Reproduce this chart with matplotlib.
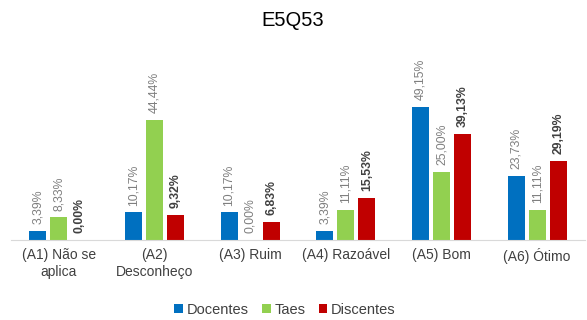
import matplotlib
matplotlib.use("Agg")
import matplotlib.pyplot as plt
import numpy as np

plt.rcParams['font.family'] = ['Liberation Sans', 'DejaVu Sans']

categories = ["(A1) Não se\naplica", "(A2)\nDesconheço", "(A3) Ruim",
              "(A4) Razoável", "(A5) Bom", "(A6) Ótimo"]
series = ["Docentes", "Taes", "Discentes"]
docentes = [3.39, 10.17, 10.17, 3.39, 49.15, 23.73]
taes = [8.33, 44.44, 0.00, 11.11, 25.00, 11.11]
discentes = [0.00, 9.32, 6.83, 15.53, 39.13, 29.19]
colors = ["#0070C0", "#92D050", "#C00000"]

W, H = 587, 320
fig = plt.figure(figsize=(W / 100, H / 100), dpi=100)
ax = fig.add_axes([11 / W, (H - 240) / H, 574 / W, 200 / H])

x = np.arange(len(categories))
width = 0.178
step = 0.22
handles = []
for i, (vals, col) in enumerate(zip([docentes, taes, discentes], colors)):
    pos = x + (i - 1) * step
    b = ax.bar(pos, vals, width, color=col, label=series[i], zorder=2)
    handles.append(b)
    for p, v in zip(pos, vals):
        txt = f"{v:.2f}%".replace(".", ",")
        if i == 2:
            ax.annotate(txt, (p, v), xytext=(0, 5), textcoords="offset points",
                        rotation=90, ha="center", va="bottom", fontsize=8.8,
                        color="#404040", fontweight="bold")
        else:
            ax.annotate(txt, (p, v), xytext=(0, 5), textcoords="offset points",
                        rotation=90, ha="center", va="bottom", fontsize=8.8,
                        color="#7f7f7f")

ax.set_xlim(-0.5, len(categories) - 0.5)
ax.set_ylim(0, 73.9)
ax.set_yticks([])
ax.set_xticks(x)
ax.set_xticklabels(categories, fontsize=10, color="#404040")
ax.tick_params(axis="x", length=0, pad=6)
for s in ["top", "right", "left"]:
    ax.spines[s].set_visible(False)
ax.spines["bottom"].set_color("#d9d9d9")

fig.text(293 / W, 1 - 20 / H, "E5Q53", ha="center", va="center", fontsize=14.5, color="#000000")
fig.legend(handles=handles, labels=series, loc="center", bbox_to_anchor=(285 / W, 1 - 310 / H),
           ncol=3, frameon=False, fontsize=10.5, handlelength=0.6, handleheight=0.6,
           handletextpad=0.25, columnspacing=0.9, labelcolor="#404040")

fig.savefig("out.png", dpi=100)
